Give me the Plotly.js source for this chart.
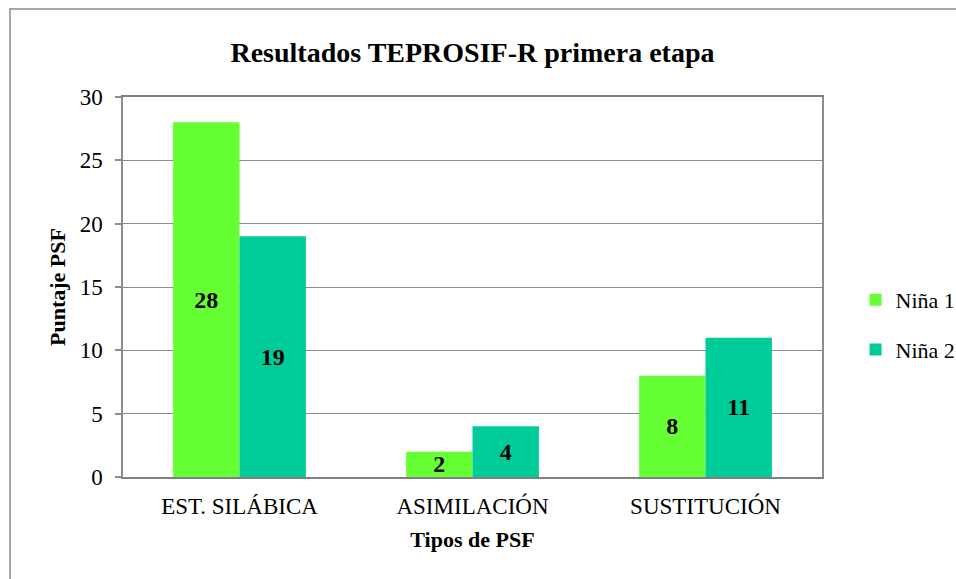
<!DOCTYPE html>
<html>
<head>
<meta charset="utf-8">
<script src="https://cdn.plot.ly/plotly-3.0.1.min.js"></script>
</head>
<body style="margin:0">
<div id="chart" style="width:956px;height:579px"></div>
<script>
const categories = ["EST. SILÁBICA", "ASIMILACIÓN", "SUSTITUCIÓN"];
const nina1 = [28, 2, 8];
const nina2 = [19, 4, 11];
const seriesNames = ["Niña 1", "Niña 2"];
const yTicks = [0, 5, 10, 15, 20, 25, 30];

const FAM = "Times New Roman";
const labelFont = {family: FAM, size: 24, color: "#000", weight: "bold"};

function barTrace(name, vals, color, group) {
  return {
    type: "bar", name: name, x: categories, y: vals,
    marker: {color: color, line: {width: 0}},
    text: vals.map(String), textposition: "inside", insidetextanchor: "middle",
    textfont: labelFont, constraintext: "none", textangle: 0,
    legendgroup: group, hoverinfo: "none"
  };
}

const data = [
  barTrace(seriesNames[0], nina1, "#66FF33", "a"),
  barTrace(seriesNames[1], nina2, "#00CC99", "b")
];

const layout = {
  width: 956, height: 579,
  margin: {l: 123, r: 134, t: 97, b: 102, autoexpand: false},
  paper_bgcolor: "#fff", plot_bgcolor: "#fff",
  font: {family: FAM, size: 22, color: "#000"},
  title: {text: "<b>Resultados TEPROSIF-R primera etapa</b>", font: {family: FAM, size: 28, color: "#000"},
          xref: "paper", x: 0.5, xanchor: "center", yref: "container", y: 1 - 52/579, yanchor: "middle"},
  barmode: "group", bargap: 0.43, bargroupgap: 0,
  xaxis: {
    showline: true, linecolor: "#808080", linewidth: 2, mirror: true,
    ticks: "", tickfont: {family: FAM, size: 23, color: "#000"},
    ticklabelstandoff: 7,
    title: {text: "<b>Tipos de PSF</b>", font: {family: FAM, size: 22, color: "#000"}, standoff: 14}
  },
  yaxis: {
    range: [0, 30], tickvals: yTicks, ticktext: yTicks.map(String),
    showgrid: true, gridcolor: "#8c8c8c", gridwidth: 1.2,
    showline: true, linecolor: "#8c8c8c", linewidth: 1.5, mirror: true,
    ticks: "outside", ticklen: 6, tickcolor: "#8c8c8c", tickwidth: 1.5,
    ticklabelstandoff: 8,
    tickfont: {family: FAM, size: 23, color: "#000"},
    zeroline: false,
    title: {text: "<b>Puntaje PSF</b>", font: {family: FAM, size: 22, color: "#000"}, standoff: 8}
  },
  legend: {
    x: 1.048, xanchor: "left", y: 0.4, yanchor: "middle",
    font: {family: FAM, size: 22, color: "#000"},
    traceorder: "grouped", tracegroupgap: 18,
    itemwidth: 30, bgcolor: "rgba(0,0,0,0)"
  },
  shapes: [{
    type: "rect", xref: "paper", yref: "paper",
    x0: (10 - 123) / 699, x1: 1.4, y0: -0.5, y1: (477 - 9) / 380,
    line: {color: "#8c8c8c", width: 1.5}, fillcolor: "rgba(0,0,0,0)", layer: "below"
  }]
};

const config = {displayModeBar: false};
Plotly.newPlot("chart", data, layout, config).then(() => {
  document.querySelectorAll("#chart text").forEach(t => {
    const fam = getComputedStyle(t).fontFamily;
    t.style.fontFamily = fam;
  });
  document.body.offsetHeight;
});
</script>
</body>
</html>
